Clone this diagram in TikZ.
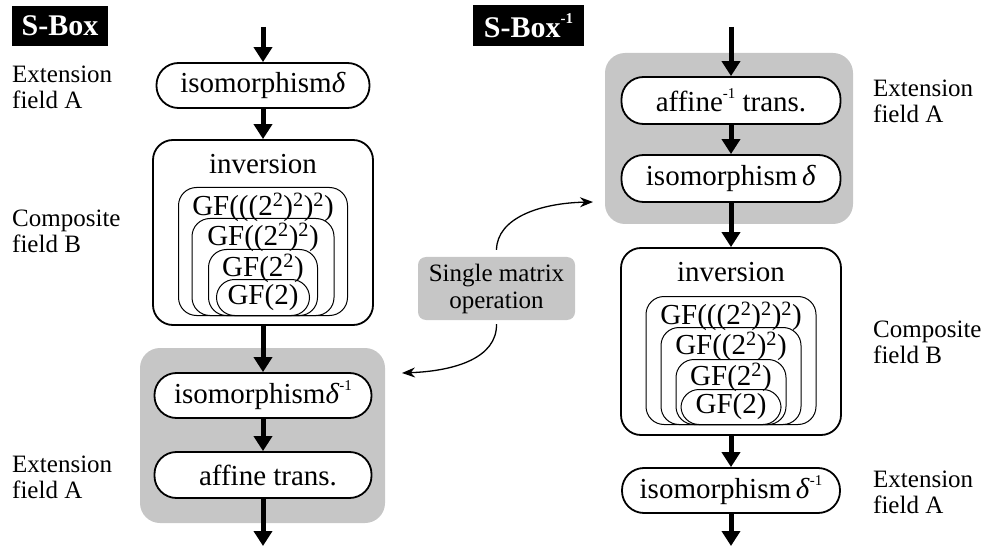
\documentclass[tikz,border=0pt]{standalone}
\usepackage{fontspec}
\setmainfont{Liberation Serif}
\usetikzlibrary{arrows.meta}
\definecolor{panel}{RGB}{198,198,198}
% small raised exponent such as -1
\newcommand{\supx}[1]{\raisebox{0.45em}{\fontsize{15}{15}\selectfont #1}}
\begin{document}
\begin{tikzpicture}[x=1pt, y=-1pt,
  box/.style={draw, line width=1.8pt, fill=white, rounded corners=22pt,
    minimum height=45pt, inner sep=0pt, font=\fontsize{29}{30}\selectfont},
  invbox/.style={draw, line width=1.8pt, fill=white, rounded corners=20pt,
    minimum width=220pt, inner sep=0pt},
  gfbox/.style={draw, line width=1pt, rounded corners=18pt, inner sep=0pt, anchor=south},
  gftext/.style={font=\fontsize{29}{30}\selectfont, inner sep=0pt},
  panelbox/.style={fill=panel, rounded corners=20pt},
  flow/.style={line width=5pt, -{Triangle[width=18pt,length=15pt]}},
  side/.style={anchor=north west, align=left, inner sep=0pt, font=\fontsize{25}{26}\selectfont},
  tag/.style={fill=black, text=white, inner sep=0pt, font=\fontsize{30}{30}\selectfont\bfseries},
  link/.style={line width=1.3pt, -{Stealth[length=13pt,width=10pt]}}
]
\useasboundingbox (0,0) rectangle (988,548);

% ---------------- S-Box ----------------
\node[tag, minimum width=96pt, minimum height=40pt] (tagL) at (60,26) {S-Box};
\node[side] (extLa) at (12,66) {Extension\\field A};
\node[side] (compL) at (12,210) {Composite\\field B};
\node[side] (extLb) at (12,456) {Extension\\field A};

\fill[panelbox] (140,348) rectangle (385,523);

\coordinate (inL) at (263,27);
\coordinate (outL) at (263,546);
\node[box, minimum width=213pt] (isoL) at (263,85.5) {isomorphism\textit{δ}};
\node[invbox, minimum height=185pt] (invL) at (263,232.5) {};
\node[font=\fontsize{29}{30}\selectfont, inner sep=0pt] (invLt) at (263,164) {inversion};
\node[gfbox, minimum width=169pt, minimum height=128pt] (gfLa) at (263,316) {};
\node[gfbox, minimum width=142pt, minimum height=97pt] (gfLb) at (263,316) {};
\node[gfbox, minimum width=109pt, minimum height=66pt] (gfLc) at (263,316) {};
\node[gfbox, minimum width=93pt, minimum height=36pt] (gfLd) at (263,316) {};
\node[gftext] (gfLat) at (263,207) {GF(((2\textsuperscript{2})\textsuperscript{2})\textsuperscript{2})};
\node[gftext] (gfLbt) at (263,237) {GF((2\textsuperscript{2})\textsuperscript{2})};
\node[gftext] (gfLct) at (263,268) {GF(2\textsuperscript{2})};
\node[gftext] (gfLdt) at (263,298) {GF(2)};
\node[box, minimum width=217pt] (isoiL) at (263,395.5) {isomorphism\textit{δ}\supx{-1}};
\node[box, minimum width=217pt, minimum height=46pt] (affL) at (263,475) {\hspace{10pt}affine trans.};

\draw[flow] (inL) -- (isoL);
\draw[flow] (isoL) -- (invL);
\draw[flow] (invL) -- (isoiL);
\draw[flow] (isoiL) -- (affL);
\draw[flow] (affL) -- (outL);

% ---------------- S-Box^-1 ----------------
\node[tag, minimum width=111pt, minimum height=41pt] (tagR) at (528.5,25.5) {S-Box\supx{\bfseries -1}};
\node[side] (extRa) at (873,80) {Extension\\field A};
\node[side] (compR) at (873,321) {Composite\\field B};
\node[side] (extRb) at (873,471) {Extension\\field A};

\fill[panelbox] (605,53) rectangle (853,224);

\coordinate (inR) at (731,27);
\coordinate (outR) at (731,546);
\node[box, minimum width=219pt, minimum height=47pt] (affR) at (731,100.5) {affine\supx{-1}\ trans.};
\node[box, minimum width=219pt, minimum height=47pt] (isoR) at (731,178.5) {isomorphism\,\textit{δ}};
\node[invbox, minimum height=187pt] (invR) at (731,341.5) {};
\node[font=\fontsize{29}{30}\selectfont, inner sep=0pt] (invRt) at (731,272) {inversion};
\node[gfbox, minimum width=170pt, minimum height=128pt] (gfRa) at (731,425) {};
\node[gfbox, minimum width=140pt, minimum height=97pt] (gfRb) at (731,425) {};
\node[gfbox, minimum width=110pt, minimum height=65pt] (gfRc) at (731,425) {};
\node[gfbox, minimum width=100pt, minimum height=35pt] (gfRd) at (731,425) {};
\node[gftext] (gfRat) at (731,316) {GF(((2\textsuperscript{2})\textsuperscript{2})\textsuperscript{2})};
\node[gftext] (gfRbt) at (731,346) {GF((2\textsuperscript{2})\textsuperscript{2})};
\node[gftext] (gfRct) at (731,377) {GF(2\textsuperscript{2})};
\node[gftext] (gfRdt) at (731,407) {GF(2)};
\node[box, minimum width=218pt] (isoiR) at (731,490.5) {isomorphism\,\textit{δ}\supx{-1}};

\draw[flow] (inR) -- (affR);
\draw[flow] (affR) -- (isoR);
\draw[flow] (isoR) -- (invR);
\draw[flow] (invR) -- (isoiR);
\draw[flow] (isoiR) -- (outR);

% ---------------- shared matrix step ----------------
\node[fill=panel, rounded corners=8pt, minimum width=157pt, minimum height=63pt,
      align=center, inner sep=0pt, font=\fontsize{25}{27}\selectfont] (smo) at (496.5,288.5)
      {Single matrix\\operation};
\coordinate (tipR) at (593,202);
\coordinate (tipL) at (402,373);
\draw[link] ([yshift=7pt]smo.north) .. controls (497,218) and (540,203) .. (tipR);
\draw[link] ([yshift=-4pt]smo.south) .. controls (497,358) and (455,371) .. (tipL);
\end{tikzpicture}
\end{document}
